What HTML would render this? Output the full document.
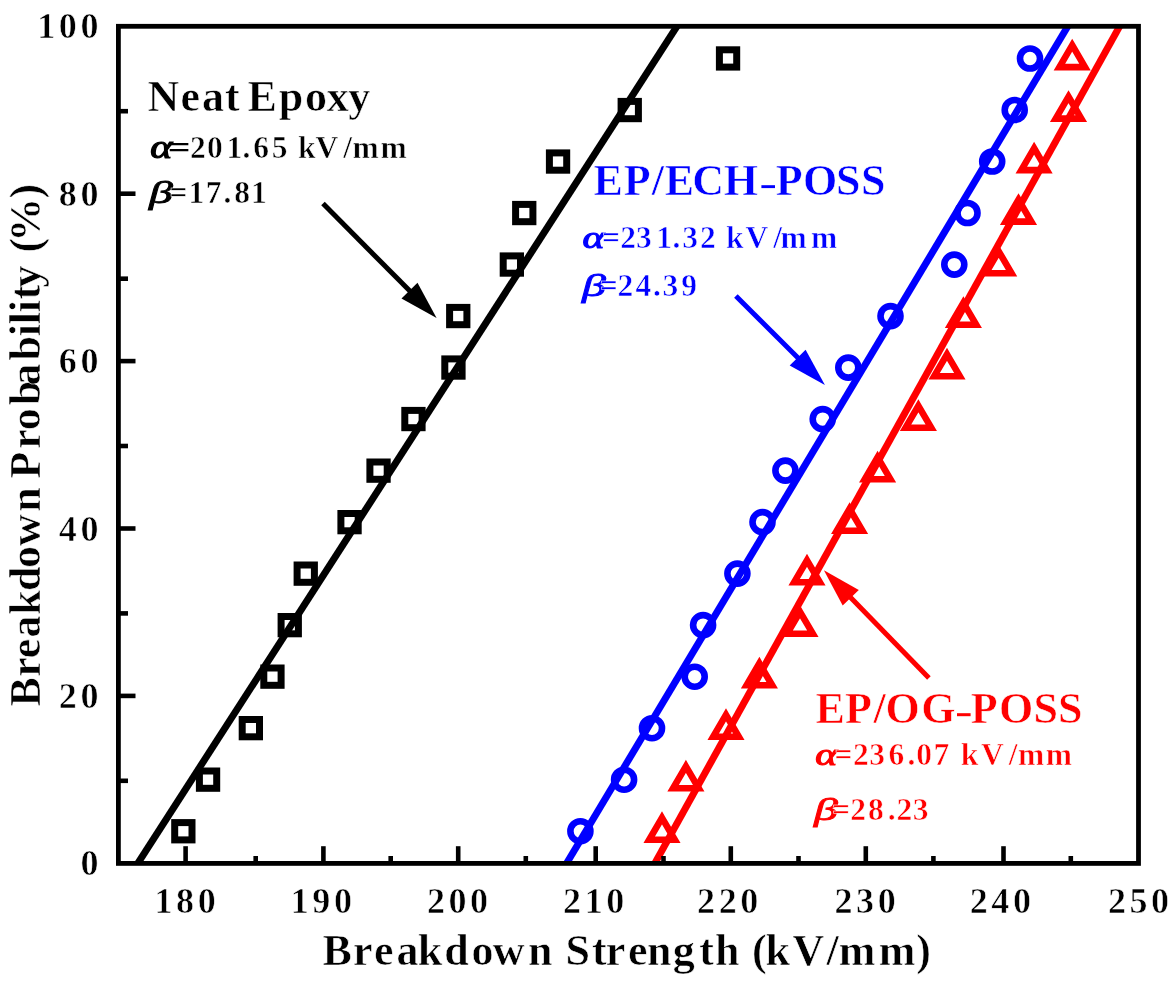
<!DOCTYPE html>
<html><head><meta charset="utf-8"><title>Weibull breakdown plot</title>
<style>
html,body{margin:0;padding:0;background:#fff;}
body{width:1176px;height:984px;overflow:hidden;}
svg{display:block;}
text{font-family:"Liberation Serif",serif;font-weight:bold;}
text.er{stroke:#fff;stroke-width:0.55px;}
.it{font-style:italic;}
.gk{font-style:italic;font-weight:normal;}
</style></head><body>
<svg width="1176" height="984" viewBox="0 0 1176 984">
<rect x="0" y="0" width="1176" height="984" fill="#fff"/>
<defs><filter id="soft" filterUnits="userSpaceOnUse" x="0" y="0" width="1176" height="984"><feGaussianBlur stdDeviation="0.75"/></filter><clipPath id="plot"><rect x="118.4" y="26.3" width="1020.1" height="837.1"/></clipPath></defs>
<g clip-path="url(#plot)" fill="none" stroke-linecap="butt">
<line x1="128.5" y1="877.8" x2="686.3" y2="11.8" stroke="#000" stroke-width="7.0"/>
<line x1="557.7" y1="878.2" x2="1076.7" y2="11.4" stroke="#0000ff" stroke-width="7.0"/>
<line x1="646.4" y1="878.5" x2="1128.4" y2="10.5" stroke="#ff0000" stroke-width="7.0"/>
</g>
<g fill="none" stroke-width="6.6">
<rect x="174.7" y="822.6" width="17.3" height="17.3" stroke="#000" stroke-width="7"/>
<rect x="199.4" y="771.0" width="17.3" height="17.3" stroke="#000" stroke-width="7"/>
<rect x="242.2" y="719.5" width="17.3" height="17.3" stroke="#000" stroke-width="7"/>
<rect x="263.8" y="668.0" width="17.3" height="17.3" stroke="#000" stroke-width="7"/>
<rect x="281.1" y="616.5" width="17.3" height="17.3" stroke="#000" stroke-width="7"/>
<rect x="297.1" y="565.0" width="17.3" height="17.3" stroke="#000" stroke-width="7"/>
<rect x="340.9" y="513.5" width="17.3" height="17.3" stroke="#000" stroke-width="7"/>
<rect x="369.9" y="462.0" width="17.3" height="17.3" stroke="#000" stroke-width="7"/>
<rect x="404.8" y="410.4" width="17.3" height="17.3" stroke="#000" stroke-width="7"/>
<rect x="444.8" y="358.9" width="17.3" height="17.3" stroke="#000" stroke-width="7"/>
<rect x="449.6" y="307.4" width="17.3" height="17.3" stroke="#000" stroke-width="7"/>
<rect x="503.2" y="255.9" width="17.3" height="17.3" stroke="#000" stroke-width="7"/>
<rect x="515.6" y="204.4" width="17.3" height="17.3" stroke="#000" stroke-width="7"/>
<rect x="549.4" y="152.9" width="17.3" height="17.3" stroke="#000" stroke-width="7"/>
<rect x="621.1" y="101.4" width="17.3" height="17.3" stroke="#000" stroke-width="7"/>
<rect x="719.4" y="49.8" width="17.3" height="17.3" stroke="#000" stroke-width="7"/>
<circle cx="580.4" cy="831.2" r="10.0" stroke="#0000ff"/>
<circle cx="624.1" cy="779.7" r="10.0" stroke="#0000ff"/>
<circle cx="652.0" cy="728.2" r="10.0" stroke="#0000ff"/>
<circle cx="694.7" cy="676.7" r="10.0" stroke="#0000ff"/>
<circle cx="703.1" cy="625.1" r="10.0" stroke="#0000ff"/>
<circle cx="737.4" cy="573.6" r="10.0" stroke="#0000ff"/>
<circle cx="762.5" cy="522.1" r="10.0" stroke="#0000ff"/>
<circle cx="785.4" cy="470.6" r="10.0" stroke="#0000ff"/>
<circle cx="822.7" cy="419.1" r="10.0" stroke="#0000ff"/>
<circle cx="848.3" cy="367.6" r="10.0" stroke="#0000ff"/>
<circle cx="890.5" cy="316.1" r="10.0" stroke="#0000ff"/>
<circle cx="954.3" cy="264.6" r="10.0" stroke="#0000ff"/>
<circle cx="967.5" cy="213.0" r="10.0" stroke="#0000ff"/>
<circle cx="992.2" cy="161.5" r="10.0" stroke="#0000ff"/>
<circle cx="1014.7" cy="110.0" r="10.0" stroke="#0000ff"/>
<circle cx="1030.0" cy="58.5" r="10.0" stroke="#0000ff"/>
<path d="M662.0 817.9 L674.8 839.8 L649.2 839.8 Z" stroke="#ff0000" stroke-linejoin="miter"/>
<path d="M685.9 766.4 L698.7 788.3 L673.1 788.3 Z" stroke="#ff0000" stroke-linejoin="miter"/>
<path d="M726.0 714.9 L738.8 736.8 L713.2 736.8 Z" stroke="#ff0000" stroke-linejoin="miter"/>
<path d="M759.4 663.4 L772.2 685.3 L746.6 685.3 Z" stroke="#ff0000" stroke-linejoin="miter"/>
<path d="M800.0 611.8 L812.8 633.7 L787.2 633.7 Z" stroke="#ff0000" stroke-linejoin="miter"/>
<path d="M807.0 560.3 L819.8 582.2 L794.2 582.2 Z" stroke="#ff0000" stroke-linejoin="miter"/>
<path d="M849.6 508.8 L862.4 530.7 L836.8 530.7 Z" stroke="#ff0000" stroke-linejoin="miter"/>
<path d="M877.6 457.3 L890.4 479.2 L864.8 479.2 Z" stroke="#ff0000" stroke-linejoin="miter"/>
<path d="M918.4 405.8 L931.2 427.7 L905.6 427.7 Z" stroke="#ff0000" stroke-linejoin="miter"/>
<path d="M947.0 354.3 L959.8 376.2 L934.2 376.2 Z" stroke="#ff0000" stroke-linejoin="miter"/>
<path d="M963.4 302.8 L976.2 324.7 L950.6 324.7 Z" stroke="#ff0000" stroke-linejoin="miter"/>
<path d="M998.7 251.3 L1011.5 273.2 L985.9 273.2 Z" stroke="#ff0000" stroke-linejoin="miter"/>
<path d="M1018.5 199.7 L1031.3 221.6 L1005.7 221.6 Z" stroke="#ff0000" stroke-linejoin="miter"/>
<path d="M1034.1 148.2 L1046.9 170.1 L1021.3 170.1 Z" stroke="#ff0000" stroke-linejoin="miter"/>
<path d="M1068.5 96.7 L1081.3 118.6 L1055.7 118.6 Z" stroke="#ff0000" stroke-linejoin="miter"/>
<path d="M1072.2 45.2 L1085.0 67.1 L1059.4 67.1 Z" stroke="#ff0000" stroke-linejoin="miter"/>
</g>
<g stroke="#000" fill="none">
<rect x="118.4" y="26.3" width="1020.1" height="837.1" stroke-width="4.8"/>
<line x1="118.4" y1="780.8" x2="128.0" y2="780.8" stroke-width="4.6"/>
<line x1="118.4" y1="695.9" x2="135.5" y2="695.9" stroke-width="4.6"/>
<line x1="118.4" y1="613.4" x2="128.0" y2="613.4" stroke-width="4.6"/>
<line x1="118.4" y1="528.5" x2="135.5" y2="528.5" stroke-width="4.6"/>
<line x1="118.4" y1="446.0" x2="128.0" y2="446.0" stroke-width="4.6"/>
<line x1="118.4" y1="361.1" x2="135.5" y2="361.1" stroke-width="4.6"/>
<line x1="118.4" y1="278.7" x2="128.0" y2="278.7" stroke-width="4.6"/>
<line x1="118.4" y1="193.7" x2="135.5" y2="193.7" stroke-width="4.6"/>
<line x1="118.4" y1="111.2" x2="128.0" y2="111.2" stroke-width="4.6"/>
<line x1="185.6" y1="863.4" x2="185.6" y2="846.2" stroke-width="4.6"/>
<line x1="255.7" y1="863.4" x2="255.7" y2="856.0" stroke-width="4.6"/>
<line x1="323.4" y1="863.4" x2="323.4" y2="846.2" stroke-width="4.6"/>
<line x1="390.7" y1="863.4" x2="390.7" y2="856.0" stroke-width="4.6"/>
<line x1="458.2" y1="863.4" x2="458.2" y2="846.2" stroke-width="4.6"/>
<line x1="525.8" y1="863.4" x2="525.8" y2="856.0" stroke-width="4.6"/>
<line x1="595.7" y1="863.4" x2="595.7" y2="846.2" stroke-width="4.6"/>
<line x1="663.5" y1="863.4" x2="663.5" y2="856.0" stroke-width="4.6"/>
<line x1="730.8" y1="863.4" x2="730.8" y2="846.2" stroke-width="4.6"/>
<line x1="798.5" y1="863.4" x2="798.5" y2="856.0" stroke-width="4.6"/>
<line x1="865.8" y1="863.4" x2="865.8" y2="846.2" stroke-width="4.6"/>
<line x1="933.4" y1="863.4" x2="933.4" y2="856.0" stroke-width="4.6"/>
<line x1="1003.5" y1="863.4" x2="1003.5" y2="846.2" stroke-width="4.6"/>
<line x1="1070.8" y1="863.4" x2="1070.8" y2="856.0" stroke-width="4.6"/>
</g>
<g filter="url(#soft)">
<g font-size="36" fill="#000">
<text class="er" x="102.0" y="875.3" text-anchor="end" letter-spacing="3.6">0</text>
<text class="er" x="102.0" y="707.9" text-anchor="end" letter-spacing="3.6">20</text>
<text class="er" x="102.0" y="540.5" text-anchor="end" letter-spacing="3.6">40</text>
<text class="er" x="102.0" y="373.0" text-anchor="end" letter-spacing="3.6">60</text>
<text class="er" x="102.0" y="205.6" text-anchor="end" letter-spacing="3.6">80</text>
<text class="er" x="102.0" y="38.2" text-anchor="end" letter-spacing="3.6">100</text>
<text class="er" x="186.9" y="913.4" text-anchor="middle" letter-spacing="3.6">180</text>
<text class="er" x="323.1" y="913.4" text-anchor="middle" letter-spacing="3.6">190</text>
<text class="er" x="459.3" y="913.4" text-anchor="middle" letter-spacing="3.6">200</text>
<text class="er" x="595.5" y="913.4" text-anchor="middle" letter-spacing="3.6">210</text>
<text class="er" x="729.5" y="913.4" text-anchor="middle" letter-spacing="3.6">220</text>
<text class="er" x="866.9" y="913.4" text-anchor="middle" letter-spacing="3.6">230</text>
<text class="er" x="1002.1" y="913.4" text-anchor="middle" letter-spacing="3.6">240</text>
<text class="er" x="1140.3" y="913.4" text-anchor="middle" letter-spacing="3.6">250</text>
</g>
<text class="er" font-size="44.0" x="322.5 353.1 374.1 396.6 417.7 444.2 471.5 492.7 528.0 565.4 592.0 605.8 627.9 646.9 672.8 699.3 714.9 752.1 765.6 792.6 826.5 838.7 878.7 916.2" y="965.4">BreakdownStrength(kV/mm)</text>
<text class="er" transform="translate(39.7 0) rotate(-90)" font-size="44.0" x="-706.5 -676.7 -658.2 -637.5 -614.8 -590.9 -568.0 -546.0 -511.8 -478.4 -448.7 -430.2 -405.3 -385.4 -360.5 -336.3 -324.2 -312.2 -299.5 -287.4 -252.5 -241.7 -198.4" y="0">BreakdownProbability(%)</text>
<text class="er" font-size="44.0" fill="#000" x="147.5 180.4 201.9 225.0 247.5 278.8 304.9 326.7 348.2" y="110.5">NeatEpoxy</text>
<text class="gk" transform="translate(150.9 157.8) scale(1.330 1.040)" font-size="31.5" fill="#000" stroke="#000" stroke-width="1.10" x="-0.49" y="0">α</text>
<text transform="translate(169.6 157.8) scale(1.27 1)" font-size="31.5" x="-1.48" y="0">=</text>
<text class="er" font-size="31.5" fill="#000" x="190.0 207.0 226.6 242.4 253.3 271.7 298.1 315.6 343.3 352.5 380.4" y="157.8">201.65kV/mm</text>
<text class="gk" transform="translate(147.5 203.2) scale(1.520 1.030)" font-size="31.5" fill="#000" stroke="#000" stroke-width="0.80" x="0.98" y="0">β</text>
<text class="er" font-size="31.5" fill="#000" x="169.6 188.5 205.8 223.5 234.2 251.1" y="203.2">=17.81</text>
<text class="er" font-size="44.0" fill="#0000ff" x="593.5 623.8 651.7 664.7 692.3 723.8 775.7 803.0 835.9 860.9" y="194.6">EP/ECHPOSS</text>
<text class="gk" transform="translate(583.2 247.8) scale(1.330 1.000)" font-size="31.5" fill="#0000ff" stroke="#0000ff" stroke-width="1.10" x="-0.49" y="0">α</text>
<text class="er" font-size="31.5" fill="#0000ff" x="601.9 620.3 635.9 656.2 672.6 682.2 699.9 726.0 745.6 773.3 780.5 811.1" y="247.8">=231.32kV/mm</text>
<text class="gk" transform="translate(580.4 295.8) scale(1.520 1.030)" font-size="31.5" fill="#0000ff" stroke="#0000ff" stroke-width="0.80" x="0.98" y="0">β</text>
<text class="er" font-size="31.5" fill="#0000ff" x="599.8 617.5 635.5 652.9 662.4 681.3" y="295.8">=24.39</text>
<rect x="761.4" y="185.2" width="13.6" height="2.9" fill="#0000ff"/>
<rect x="957.0" y="713.2" width="13.6" height="3.0" fill="#ff0000"/>
<text class="er" font-size="44.0" fill="#ff0000" x="815.4 845.0 873.5 885.5 921.3 970.8 998.9 1033.5 1058.1" y="722.5">EP/OGPOSS</text>
<text class="gk" transform="translate(815.9 765.0) scale(1.330 1.000)" font-size="31.5" fill="#ff0000" stroke="#ff0000" stroke-width="1.10" x="-0.49" y="0">α</text>
<text class="er" font-size="31.5" fill="#ff0000" x="834.6 853.0 869.3 888.4 907.4 916.2 933.4 960.8 981.0 1008.7 1017.9 1045.8" y="765.0">=236.07kV/mm</text>
<text class="gk" transform="translate(812.5 820.2) scale(1.520 1.030)" font-size="31.5" fill="#ff0000" stroke="#ff0000" stroke-width="0.80" x="0.98" y="0">β</text>
<text class="er" font-size="31.5" fill="#ff0000" x="831.9 850.3 867.9 887.7 896.5 912.8" y="820.2">=28.23</text>
</g>
<line x1="323.0" y1="203.6" x2="410.9" y2="292.1" stroke="#000" stroke-width="5.0"/>
<path d="M436.6 318.0 L401.5 298.6 L417.5 282.8 Z" fill="#000"/>
<line x1="735.9" y1="295.9" x2="799.1" y2="359.1" stroke="#0000ff" stroke-width="5.0"/>
<path d="M824.9 384.9 L789.7 365.6 L805.6 349.7 Z" fill="#0000ff"/>
<line x1="928.9" y1="677.9" x2="849.4" y2="596.3" stroke="#ff0000" stroke-width="5.0"/>
<path d="M823.9 570.2 L858.8 589.9 L842.7 605.6 Z" fill="#ff0000"/>
</svg></body></html>
